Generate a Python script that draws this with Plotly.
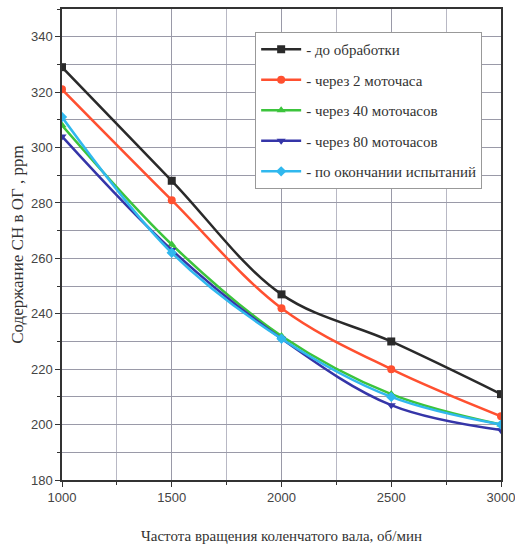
import plotly.graph_objects as go

rpm = [1000, 1500, 2000, 2500, 3000]
s_before = [329, 288, 247, 230, 211]
s_2h = [321, 281, 242, 220, 203]
s_40h = [308, 265, 232, 211, 200]
s_80h = [304, 263, 231, 207, 198]
s_end = [311, 262, 231, 210, 200]

names = ["- до обработки", "- через 2 моточаса", "- через 40 моточасов",
         "- через 80 моточасов", "- по окончании испытаний"]
colors = ["#2a2a2a", "#ff5030", "#3cc43c", "#3535a8", "#30b8ee"]
symbols = ["square", "circle", "triangle-up", "triangle-down", "diamond"]
series = [s_before, s_2h, s_40h, s_80h, s_end]

fig = go.Figure()
for i, (name, col, sym, ys) in enumerate(zip(names, colors, symbols, series)):
    fig.add_trace(go.Scatter(
        x=rpm, y=ys, name=name, mode="lines+markers", legendgroup=f"g{i}",
        line=dict(color=col, width=2.5, shape="spline", smoothing=1.0),
        marker=dict(symbol=sym, size=8, color=col),
    ))

tick_font = dict(family="Liberation Sans", size=13, color="#444")

fig.update_layout(
    width=515, height=552,
    margin=dict(l=62, r=14, t=9, b=72),
    paper_bgcolor="white", plot_bgcolor="white",
    showlegend=True,
    legend=dict(
        x=0.44, y=0.951, xanchor="left", yanchor="top",
        bgcolor="white", bordercolor="#999", borderwidth=1,
        font=dict(family="Liberation Serif", size=15, color="#333"),
        itemwidth=40, tracegroupgap=8,
    ),
    font=dict(family="Liberation Sans", size=13, color="#333"),
)
fig.update_xaxes(
    range=[1000, 3000], tickvals=[1000, 1500, 2000, 2500, 3000],
    tickfont=tick_font,
    ticks="outside", ticklen=5, tickcolor="#333", automargin=False,
    ticklabeloverflow="allow",
    showline=True, linecolor="#333", linewidth=1.5, mirror=True,
    showgrid=True, gridcolor="#9a9aa8", gridwidth=1,
    minor=dict(dtick=250, showgrid=True, gridcolor="#b8b8c4", ticks="outside", ticklen=3, tickcolor="#333"),
    title=dict(text="Частота вращения коленчатого вала, об/мин",
               font=dict(family="Liberation Serif", size=15, color="#333"), standoff=26),
    zeroline=False,
)
fig.update_yaxes(
    range=[180, 350], tickvals=[180, 200, 220, 240, 260, 280, 300, 320, 340],
    tickfont=tick_font,
    ticks="outside", ticklen=5, tickcolor="#333", automargin=False,
    showline=True, linecolor="#333", linewidth=1.5, mirror=True,
    showgrid=True, gridcolor="#9a9aa8", gridwidth=1,
    minor=dict(dtick=10, showgrid=True, gridcolor="#9a9aa8", ticks="outside", ticklen=3, tickcolor="#333"),
    title=dict(text="Содержание СН в ОГ , ppm",
               font=dict(family="Liberation Serif", size=17, color="#333"), standoff=3),
    zeroline=False,
)
fig.write_html(
    "out.html",
    config={"displayModeBar": False},
    post_script="document.body.style.margin='0';document.body.style.overflow='hidden';",
)
